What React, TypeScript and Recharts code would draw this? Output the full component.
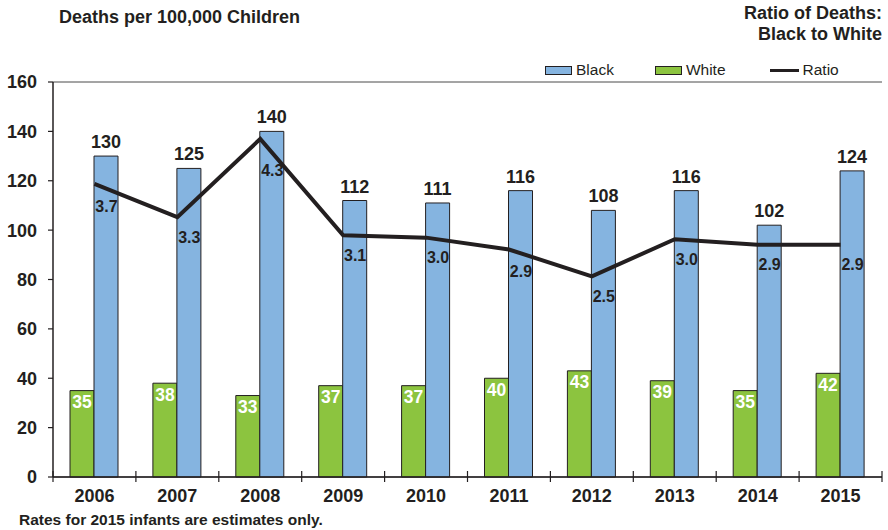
import React from 'react';
import { ComposedChart, Bar, Line, XAxis, YAxis, CartesianGrid, LabelList } from 'recharts';

const years = ['2006', '2007', '2008', '2009', '2010', '2011', '2012', '2013', '2014', '2015'];
const blackRates = [130, 125, 140, 112, 111, 116, 108, 116, 102, 124];
const whiteRates = [35, 38, 33, 37, 37, 40, 43, 39, 35, 42];
const ratios = [3.71, 3.29, 4.28, 3.06, 3.03, 2.88, 2.54, 3.01, 2.94, 2.94];
const yTicks = [0, 20, 40, 60, 80, 100, 120, 140, 160];
const ratioMax = 5;

const data = years.map((y, i) => ({ year: y, black: blackRates[i], white: whiteRates[i], ratio: ratios[i] }));

const INK = '#231f20';
const BLUE = '#85b4e0';
const GREEN = '#8cc43f';
const FONT = 'Liberation Sans, Arial, Helvetica, sans-serif';

const W = 888;
const H = 530;
const M = { top: 82, right: 6, bottom: 23, left: 0 };
const Y_W = 53;
const X_H = 30;
const PLOT_W = W - M.left - M.right - Y_W;
const PLOT_H = H - M.top - M.bottom - X_H;
const BAND = PLOT_W / years.length;
const BAR = 24;

const XTick = (props: any) => {
  const { x, y, payload, index } = props;
  const left = x - BAND / 2;
  const right = x + BAND / 2;
  return (
    <g>
      <line x1={left} x2={left} y1={y - 6} y2={y + 5} stroke={INK} strokeWidth={1.2} />
      {index === years.length - 1 && (
        <line x1={right} x2={right} y1={y - 6} y2={y + 5} stroke={INK} strokeWidth={1.2} />
      )}
      <text x={x} y={y + 25} textAnchor="middle" fontFamily={FONT} fontWeight="bold" fontSize={18} fill={INK}>
        {payload.value}
      </text>
    </g>
  );
};

const RatioLabel = (props: any) => {
  const { x, y, value, index } = props;
  const next = index < ratios.length - 1 ? ratios[index + 1] : ratios[index];
  const drop = ((ratios[index] - next) * (PLOT_H / ratioMax) * (BAR / 2)) / BAND;
  const center = y + Math.max(20, drop + 18);
  return (
    <text x={x + BAR / 2} y={center + 5.5} textAnchor="middle" fontFamily={FONT} fontWeight="bold" fontSize={16} fill={INK}>
      {Number(value).toFixed(1)}
    </text>
  );
};

const legendItems = [
  { label: 'Black', type: 'rect', color: BLUE },
  { label: 'White', type: 'rect', color: GREEN },
  { label: 'Ratio', type: 'line', color: INK },
];

export default function App() {
  return (
    <div style={{ position: 'absolute', left: 0, top: 0, width: W, height: H, background: '#fff', fontFamily: FONT, color: INK }}>
      <div style={{ position: 'absolute', left: 59, top: 7, fontSize: 18, fontWeight: 'bold' }}>Deaths per 100,000 Children</div>
      <div style={{ position: 'absolute', right: 6, top: 3, fontSize: 18, fontWeight: 'bold', textAlign: 'right', lineHeight: '21px' }}>
        Ratio of Deaths:<br />Black to White
      </div>
      <div style={{ position: 'absolute', left: 545, top: 60, display: 'flex', alignItems: 'center', fontSize: 15.5, height: 20 }}>
        {legendItems.map((it) => (
          <div key={it.label} style={{ display: 'flex', alignItems: 'center', marginRight: it.label === 'Black' ? 41 : it.label === 'White' ? 44 : 0 }}>
            {it.type === 'rect' ? (
              <div style={{ width: 25, height: 7, background: it.color, border: `1px solid ${INK}`, marginRight: 4 }} />
            ) : (
              <div style={{ width: 29, height: 3, background: it.color, marginRight: 4 }} />
            )}
            <span>{it.label}</span>
          </div>
        ))}
      </div>
      <div style={{ position: 'absolute', left: 19, top: 511, fontSize: 15.5, fontWeight: 'bold' }}>Rates for 2015 infants are estimates only.</div>
      <div style={{ position: 'absolute', left: 0, top: 0 }}>
        <ComposedChart width={W} height={H} data={data} margin={M} barGap={0} barSize={BAR}>
          <CartesianGrid horizontal vertical={false} stroke="#4a4a4a" strokeWidth={1} />
          <XAxis
            dataKey="year"
            height={X_H}
            tickSize={0}
            tickMargin={0}
            tickLine={false}
            axisLine={{ stroke: INK, strokeWidth: 1.5 }}
            tick={<XTick />}
            interval={0}
          />
          <YAxis
            yAxisId="left"
            width={Y_W}
            domain={[0, 160]}
            ticks={yTicks}
            interval={0}
            tickSize={5}
            tickMargin={11}
            tickLine={{ stroke: INK, strokeWidth: 1.2 }}
            axisLine={{ stroke: INK, strokeWidth: 1.5 }}
            tick={{ fill: INK, fontSize: 18, fontWeight: 'bold', fontFamily: FONT }}
          />
          <YAxis
            yAxisId="right"
            orientation="right"
            width={0}
            domain={[0, ratioMax]}
            tick={false}
            tickLine={false}
            axisLine={{ stroke: '#555', strokeWidth: 1.2 }}
          />
          <Bar yAxisId="left" dataKey="white" fill={GREEN} stroke={INK} strokeWidth={1} isAnimationActive={false}>
            <LabelList dataKey="white" position="insideTop" offset={5} fill="#ffffff" fontSize={17.5} fontWeight="bold" fontFamily={FONT} />
          </Bar>
          <Bar yAxisId="left" dataKey="black" fill={BLUE} stroke={INK} strokeWidth={1} isAnimationActive={false}>
            <LabelList dataKey="black" position="top" offset={8} fill={INK} fontSize={18} fontWeight="bold" fontFamily={FONT} />
          </Bar>
          <Line yAxisId="right" dataKey="ratio" type="linear" stroke={INK} strokeWidth={4} dot={false} activeDot={false} isAnimationActive={false}>
            <LabelList dataKey="ratio" content={<RatioLabel />} />
          </Line>
        </ComposedChart>
      </div>
    </div>
  );
}
